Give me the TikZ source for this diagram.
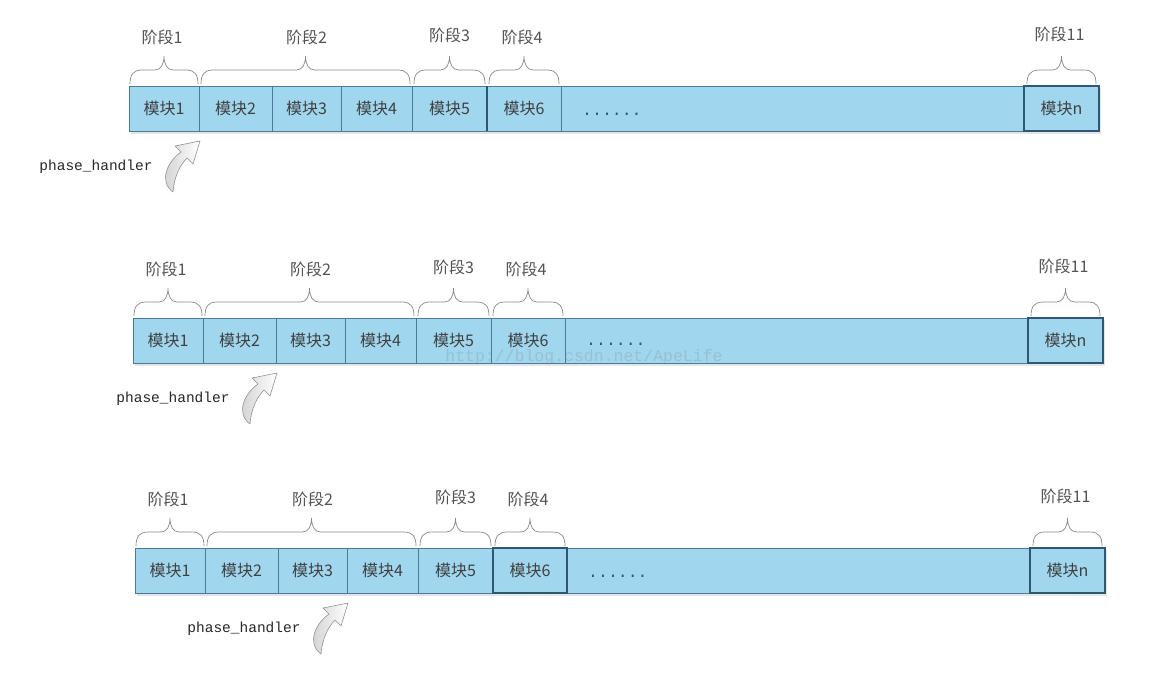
\documentclass[tikz,border=0pt]{standalone}
\usepackage{fontspec}
\newfontfamily\cjk{Noto Sans CJK SC}
\newfontfamily\monof{Liberation Mono}
\usetikzlibrary{calc}
\definecolor{barfill}{HTML}{A0D6EE}
\definecolor{barline}{HTML}{4A7A9C}
\definecolor{darkline}{HTML}{2E5675}
\definecolor{txtc}{HTML}{404040}
\definecolor{bracec}{HTML}{888888}
\newcommand\mybrace[2]{%
  \draw[bracestyle] let \p1=(#1), \p2=(#2), \p3=($(#1)!0.5!(#2)$) in
    (\x1,\y1) .. controls (\x1,{\y1+9pt}) and ({\x1+3pt},{\y1+14pt}) .. ({\x1+12pt},{\y1+14pt})
    -- ({\x3-9pt},{\y1+14pt}) .. controls ({\x3-3pt},{\y1+14pt}) and (\x3,{\y1+20pt}) .. (\x3,{\y1+28pt})
    .. controls (\x3,{\y1+20pt}) and ({\x3+3pt},{\y1+14pt}) .. ({\x3+9pt},{\y1+14pt})
    -- ({\x2-12pt},{\y1+14pt}) .. controls ({\x2-3pt},{\y1+14pt}) and (\x2,{\y1+9pt}) .. (\x2,\y1);}
\begin{document}
\begin{tikzpicture}[x=1pt,y=-1pt,
  cell/.style={draw=barline, fill=barfill, line width=0.8pt, inner sep=0pt, outer sep=0pt,
    minimum height=45pt, anchor=north west, font=\cjk\fontsize{16}{16}\selectfont, text=txtc},
  lbl/.style={font=\cjk\fontsize{16}{16}\selectfont, text=txtc!90, inner sep=0pt},
  bracestyle/.style={draw=bracec, line width=0.7pt},
  ph/.style={font=\monof\fontsize{14.5}{14.5}\selectfont, text=black!85, inner sep=0pt},
  dotstyle/.style={font=\monof\fontsize{16.5}{16.5}\selectfont, text=darkline, inner sep=0pt, anchor=base west},
  darkb/.style={draw=darkline, line width=1.1pt},
  wm/.style={font=\monof\fontsize{16.5}{16.5}\selectfont, text=gray, opacity=0.25, inner sep=0pt, anchor=base},
  harrow/.pic={
    \shadedraw[left color=gray!40, right color=white, draw=gray!85, line width=0.6pt, line join=round]
      (0,0) -- (-25,5) -- (-19,11) .. controls (-32,20) and (-42,40) .. (-27,51)
      .. controls (-26,36) and (-20,24) .. (-13,17) -- (-7,23) -- cycle;
  }]
\useasboundingbox (0,0) rectangle (1152,686);
\fill[white] (0,0) rectangle (1152,686);
\foreach \r/\dx/\dy/\dd in {1/0/0/0,2/4/232/-2,3/6/462/0}{
  \fill[gray!20] ({131+\dx},{88+\dy}) rectangle ({1101+\dx},{134+\dy});
  \node[cell, minimum width=70pt] (c\r-1) at ({129+\dx},{86+\dy}) {模块1};
  \node[cell, minimum width=73pt] (c\r-2) at (c\r-1.north east) {模块2};
  \node[cell, minimum width=69pt] (c\r-3) at (c\r-2.north east) {模块3};
  \node[cell, minimum width=71pt] (c\r-4) at (c\r-3.north east) {模块4};
  \node[cell, minimum width=75pt] (c\r-5) at (c\r-4.north east) {模块5};
  \node[cell, minimum width=74pt] (c\r-6) at (c\r-5.north east) {模块6};
  \node[cell, minimum width=463pt] (c\r-d) at (c\r-6.north east) {};
  \node[cell, minimum width=75pt] (c\r-n) at (c\r-d.north east) {模块n};
  \draw[darkb] (c\r-n.north west) rectangle (c\r-n.south east);
  \node[dotstyle] (c\r-dt) at ({582+\dx},{115+\dy+\dd}) {......};
  \mybrace{[xshift=1pt,yshift=2pt]c\r-1.north west}{[xshift=-1pt,yshift=2pt]c\r-1.north east}
  \mybrace{[xshift=2pt,yshift=2pt]c\r-2.north west}{[xshift=-2pt,yshift=2pt]c\r-4.north east}
  \mybrace{[xshift=2pt,yshift=2pt]c\r-5.north west}{[xshift=-2pt,yshift=2pt]c\r-5.north east}
  \mybrace{[xshift=2pt,yshift=2pt]c\r-6.north west}{[xshift=-2pt,yshift=2pt]c\r-6.north east}
  \mybrace{[xshift=3pt,yshift=2pt]c\r-n.north west}{[xshift=-3pt,yshift=2pt]c\r-n.north east}
  \node[lbl] (s\r-1) at ($(c\r-1.north west)!0.5!(c\r-1.north east)+(-2,-49)$) {阶段1};
  \node[lbl] (s\r-2) at ($(c\r-2.north west)!0.5!(c\r-4.north east)+(1,-49)$) {阶段2};
  \node[lbl] (s\r-3) at ($(c\r-5.north west)!0.5!(c\r-5.north east)+(0,-51)$) {阶段3};
  \node[lbl] (s\r-4) at ($(c\r-6.north west)!0.5!(c\r-6.north east)+(-2,-49)$) {阶段4};
  \node[lbl] (s\r-11) at ($(c\r-n.north west)!0.5!(c\r-n.north east)+(-2,-52)$) {阶段11};
  \pic (a\r) at ($(c\r-\r.south east)+(1,10)$) {harrow};
  \node[ph] (p\r) at ($(c\r-\r.south east)+(-103,36)$) {phase\_handler};
}
\draw[darkb] (c1-6.north west) -- (c1-6.south west);
\draw[darkb] (c3-6.north west) rectangle (c3-6.south east);
\node[wm] (wm) at (584,361) {http://blog.csdn.net/ApeLife};
\end{tikzpicture}
\end{document}
